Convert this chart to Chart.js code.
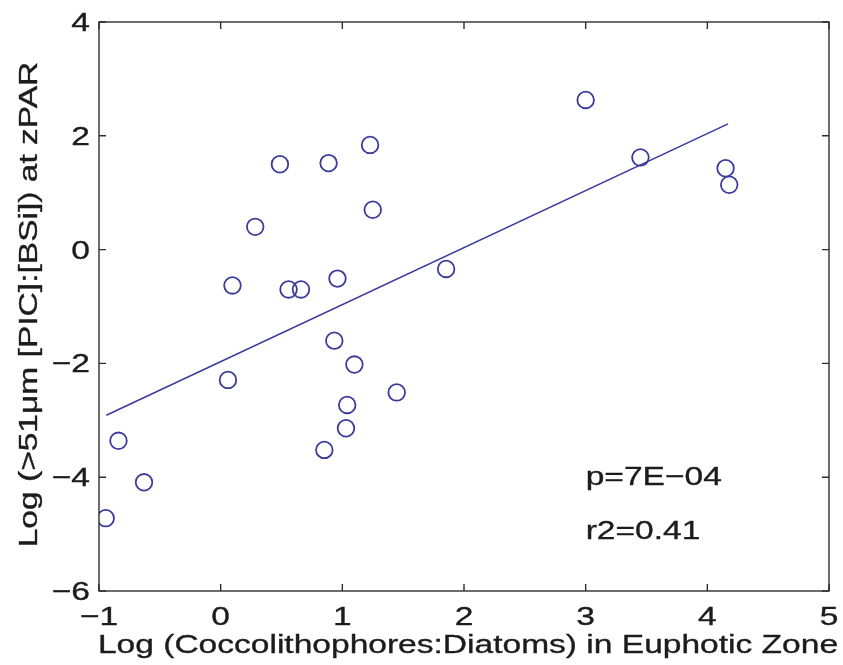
<!DOCTYPE html>
<html>
<head>
<meta charset="utf-8">
<script src="https://cdn.jsdelivr.net/npm/chart.js@4.4.1/dist/chart.umd.min.js"></script>
<style>
  html, body { margin: 0; padding: 0; background: #fff; }
  #wrap { width: 843px; height: 665px; position: relative; }
</style>
</head>
<body>
<div id="wrap"><canvas id="scatterChart"></canvas></div>
<script>
// values
const xVals = [-0.945, -0.84, -0.63, 0.06, 0.097, 0.284, 0.487, 0.558, 0.66, 0.887, 0.96, 1.228, 1.25,
               0.934, 1.099, 1.447, 1.04, 1.03, 0.852, 1.853, 3.0, 3.45, 4.15, 4.18];
const yVals = [-4.72, -3.36, -4.09, -2.29, -0.63, 0.40, 1.50, -0.70, -0.70, 1.52, -0.51, 1.84, 0.70,
               -1.60, -2.02, -2.51, -2.73, -3.14, -3.52, -0.34, 2.63, 1.62, 1.43, 1.14];
const fitX = [-0.94, 4.17];
const fitY = [-2.91, 2.21];
const xTicks = [-1, 0, 1, 2, 3, 4, 5];
const yTicks = [-6, -4, -2, 0, 2, 4];
const xTitle = "Log (Coccolithophores:Diatoms) in Euphotic Zone";
const yTitle = "Log (>51\u03bcm [PIC]:[BSi]) at zPAR";
const notes = ["p=7E\u221204", "r2=0.41"];

const blue = "#3b3b9c";
const ink = "#1c1c1c";
const FONT = "26px 'Liberation Sans', Arial, sans-serif";
const STRETCH = 1.29;

function fmt(v) {
  return String(v).replace("-", "\u2212");
}

function drawText(ctx, text, x, y, align, rot) {
  ctx.save();
  ctx.translate(x, y);
  if (rot) ctx.rotate(rot);
  ctx.scale(STRETCH, 1);
  ctx.font = FONT;
  ctx.fillStyle = ink;
  ctx.strokeStyle = ink;
  ctx.lineWidth = 0.35;
  ctx.textAlign = align;
  ctx.textBaseline = "alphabetic";
  ctx.fillText(text, 0, 0);
  ctx.strokeText(text, 0, 0);
  ctx.restore();
}

// matlab style box with inward ticks, and all the text
const boxPlugin = {
  id: "boxPlugin",
  afterDraw(chart) {
    const ctx = chart.ctx;
    const a = chart.chartArea;
    const xs = chart.scales.x;
    const ys = chart.scales.y;
    ctx.save();
    ctx.strokeStyle = "#2e2e2e";
    ctx.lineWidth = 1.4;
    ctx.strokeRect(a.left, a.top, a.right - a.left, a.bottom - a.top);
    ctx.beginPath();
    xs.ticks.forEach(t => {
      const px = xs.getPixelForValue(t.value);
      ctx.moveTo(px, a.bottom); ctx.lineTo(px, a.bottom - 7);
      ctx.moveTo(px, a.top); ctx.lineTo(px, a.top + 7);
    });
    ys.ticks.forEach(t => {
      const py = ys.getPixelForValue(t.value);
      ctx.moveTo(a.left, py); ctx.lineTo(a.left + 7, py);
      ctx.moveTo(a.right, py); ctx.lineTo(a.right - 7, py);
    });
    ctx.stroke();
    ctx.restore();

    xs.ticks.forEach(t => {
      drawText(ctx, fmt(t.value), xs.getPixelForValue(t.value), a.bottom + 34, "center");
    });
    ys.ticks.forEach(t => {
      drawText(ctx, fmt(t.value), a.left - 9, ys.getPixelForValue(t.value) + 9, "right");
    });
    drawText(ctx, xTitle, (a.left + a.right) / 2 + 4, 653, "center");
    drawText(ctx, yTitle, 37, (a.top + a.bottom) / 2 - 2, "center", -Math.PI / 2);

    const nx = xs.getPixelForValue(3.0);
    drawText(ctx, notes[0], nx, 485, "left");
    drawText(ctx, notes[1], nx, 539, "left");
  }
};

const points = xVals.map((x, i) => ({ x: x, y: yVals[i] }));
const fitLine = fitX.map((x, i) => ({ x: x, y: fitY[i] }));

new Chart(document.getElementById("scatterChart"), {
  type: "scatter",
  data: {
    datasets: [
      {
        label: "data",
        data: points,
        pointStyle: "circle",
        pointRadius: 8.3,
        pointHoverRadius: 8.3,
        borderWidth: 1.8,
        borderColor: blue,
        backgroundColor: "rgba(0,0,0,0)"
      },
      {
        type: "line",
        label: "fit",
        data: fitLine,
        borderColor: blue,
        borderWidth: 1.6,
        pointRadius: 0,
        fill: false
      }
    ]
  },
  options: {
    responsive: true,
    maintainAspectRatio: false,
    animation: false,
    devicePixelRatio: 1,
    layout: { padding: { top: 22, right: 14, bottom: 0, left: 0 } },
    plugins: {
      legend: { display: false },
      tooltip: { enabled: false }
    },
    scales: {
      x: {
        type: "linear",
        min: -1,
        max: 5,
        afterBuildTicks: s => { s.ticks = xTicks.map(v => ({ value: v })); },
        ticks: { display: false },
        grid: { display: false },
        border: { display: false },
        afterFit: s => { s.height = 74; }
      },
      y: {
        type: "linear",
        min: -6,
        max: 4,
        afterBuildTicks: s => { s.ticks = yTicks.map(v => ({ value: v })); },
        ticks: { display: false },
        grid: { display: false },
        border: { display: false },
        afterFit: s => { s.width = 99; }
      }
    }
  },
  plugins: [boxPlugin]
});
</script>
</body>
</html>
